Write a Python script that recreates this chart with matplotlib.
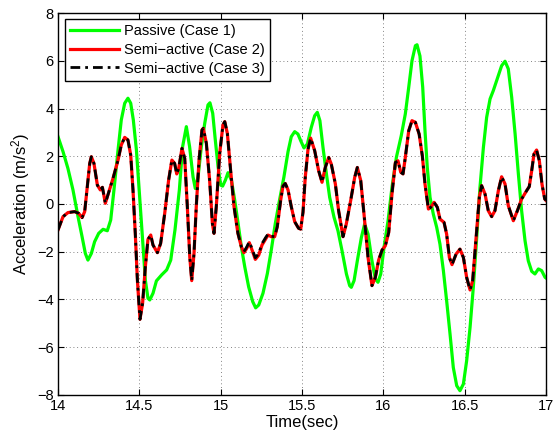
import numpy as np
import matplotlib
matplotlib.use('Agg')
import matplotlib.pyplot as plt

# --------------------------------Data--------------------------------
t_passive = [14.0, 14.031, 14.061, 14.092, 14.123, 14.148, 14.168, 14.184, 14.205, 14.225,
             14.25, 14.277, 14.303, 14.324, 14.344, 14.369, 14.389, 14.41, 14.43, 14.447,
             14.463, 14.482, 14.502, 14.523, 14.537, 14.553, 14.564, 14.584, 14.605, 14.637,
             14.668, 14.693, 14.719, 14.746, 14.766, 14.789, 14.809, 14.83, 14.844, 14.861,
             14.881, 14.902, 14.922, 14.934, 14.951, 14.967, 14.984, 15.0, 15.012, 15.029,
             15.045, 15.066, 15.086, 15.107, 15.127, 15.148, 15.172, 15.197, 15.215, 15.234,
             15.26, 15.287, 15.311, 15.336, 15.362, 15.389, 15.414, 15.434, 15.455, 15.475,
             15.492, 15.512, 15.533, 15.557, 15.578, 15.594, 15.61, 15.629, 15.65, 15.67,
             15.697, 15.721, 15.746, 15.773, 15.793, 15.803, 15.82, 15.84, 15.865, 15.885,
             15.906, 15.93, 15.951, 15.967, 15.984, 16.004, 16.029, 16.053, 16.08, 16.11,
             16.135, 16.156, 16.176, 16.197, 16.207, 16.225, 16.242, 16.256, 16.27, 16.287,
             16.307, 16.328, 16.348, 16.369, 16.389, 16.41, 16.43, 16.451, 16.471, 16.492,
             16.512, 16.533, 16.553, 16.574, 16.594, 16.615, 16.635, 16.656, 16.676, 16.7,
             16.727, 16.748, 16.768, 16.789, 16.81, 16.83, 16.85, 16.871, 16.891, 16.912,
             16.932, 16.953, 16.973, 16.994, 17.0]
a_passive = [2.82, 2.19, 1.49, 0.59, -0.53, -1.37, -2.07, -2.35, -2.07, -1.58,
             -1.23, -1.06, -1.12, -0.67, 0.59, 2.26, 3.52, 4.22, 4.43, 4.22,
             3.52, 2.26, 0.31, -1.79, -3.19, -3.95, -4.02, -3.74, -3.22, -2.97,
             -2.76, -2.35, -1.09, 0.59, 2.40, 3.24, 2.40, 1.14, 0.65, 1.14,
             2.40, 3.38, 4.15, 4.24, 3.80, 2.68, 1.56, 0.79, 0.75, 1.00,
             1.31, 1.00, 0.17, -0.81, -1.79, -2.63, -3.47, -4.09, -4.35, -4.23,
             -3.74, -2.91, -1.93, -0.81, 0.17, 1.14, 2.19, 2.82, 3.03, 2.93,
             2.65, 2.35, 2.51, 3.21, 3.70, 3.84, 3.49, 2.37, 1.26, 0.28,
             -0.56, -1.12, -1.96, -2.93, -3.42, -3.49, -3.21, -2.38, -1.40, -0.84,
             -1.26, -2.38, -3.14, -3.28, -2.93, -1.82, -0.70, 0.70, 1.95, 2.86,
             3.77, 4.89, 6.0, 6.63, 6.67, 6.2, 4.89, 3.07, 1.53, 0.28,
             -0.42, -0.98, -1.68, -2.79, -4.05, -5.45, -6.85, -7.61, -7.82, -7.54,
             -6.57, -5.17, -3.49, -1.40, 0.70, 2.37, 3.63, 4.40, 4.75, 5.24,
             5.79, 5.98, 5.66, 4.47, 2.93, 1.26, -0.28, -1.54, -2.38, -2.82,
             -2.93, -2.72, -2.79, -3.07, -3.1]

t_semi = [14.0, 14.031, 14.061, 14.102, 14.127, 14.148, 14.164, 14.18, 14.195, 14.205,
          14.221, 14.242, 14.26, 14.273, 14.291, 14.307, 14.338, 14.369, 14.389, 14.41,
          14.43, 14.447, 14.461, 14.475, 14.488, 14.504, 14.52, 14.537, 14.553, 14.57,
          14.584, 14.611, 14.631, 14.656, 14.68, 14.70, 14.717, 14.73, 14.742, 14.762,
          14.779, 14.795, 14.81, 14.822, 14.836, 14.85, 14.867, 14.885, 14.893, 14.912,
          14.932, 14.949, 14.959, 14.973, 14.994, 15.014, 15.025, 15.041, 15.061, 15.082,
          15.106, 15.127, 15.143, 15.16, 15.176, 15.193, 15.213, 15.234, 15.254, 15.275,
          15.291, 15.311, 15.332, 15.348, 15.369, 15.383, 15.397, 15.414, 15.434, 15.455,
          15.479, 15.492, 15.506, 15.52, 15.537, 15.553, 15.578, 15.602, 15.623, 15.643,
          15.664, 15.68, 15.705, 15.725, 15.752, 15.772, 15.799, 15.824, 15.84, 15.861,
          15.881, 15.906, 15.93, 15.951, 15.971, 15.992, 16.012, 16.033, 16.053, 16.074,
          16.09, 16.107, 16.121, 16.135, 16.156, 16.176, 16.197, 16.22, 16.24, 16.256,
          16.277, 16.291, 16.312, 16.332, 16.348, 16.373, 16.389, 16.406, 16.422, 16.447,
          16.471, 16.492, 16.512, 16.533, 16.549, 16.57, 16.59, 16.604, 16.625, 16.645,
          16.666, 16.686, 16.707, 16.727, 16.748, 16.768, 16.799, 16.824, 16.85, 16.881,
          16.897, 16.912, 16.926, 16.942, 16.959, 16.975, 16.992, 17.0]
a_semi2 = [-1.09, -0.53, -0.36, -0.32, -0.39, -0.57, -0.32, 0.72, 1.70, 1.98,
           1.70, 0.79, 0.59, 0.70, 0.03, 0.38, 1.07, 1.84, 2.47, 2.79,
           2.68, 2.05, 0.59, -1.23, -3.19, -4.83, -4.16, -2.63, -1.48, -1.30,
           -1.72, -2.04, -1.65, -0.39, 1.00, 1.84, 1.70, 1.26, 1.49, 2.33,
           1.91, -0.11, -2.21, -3.21, -2.07, -0.11, 1.84, 3.10, 3.17, 2.54,
           1.00, -0.81, -1.23, -0.11, 2.12, 3.31, 3.45, 2.96, 1.42, -0.11,
           -1.23, -1.79, -2.04, -1.86, -1.62, -1.93, -2.32, -2.14, -1.72, -1.48,
           -1.30, -1.37, -1.37, -0.95, 0.17, 0.75, 0.86, 0.59, -0.11, -0.74,
           -1.02, -1.05, -0.35, 1.12, 2.30, 2.76, 2.23, 1.40, 0.91, 1.53,
           1.95, 1.67, 0.84, -0.28, -1.37, -0.84, 0.14, 1.12, 1.53, 0.98,
           -0.42, -2.24, -3.42, -3.07, -2.35, -1.93, -1.75, -1.19, 0.42, 1.74,
           1.81, 1.33, 1.26, 1.95, 3.07, 3.49, 3.42, 2.93, 2.0, 0.84,
           -0.21, -0.14, 0.07, -0.14, -0.63, -0.77, -1.26, -2.24, -2.54, -2.10,
           -1.89, -2.24, -3.07, -3.60, -3.21, -1.40, 0.28, 0.77, 0.42, -0.28,
           -0.53, -0.28, 0.56, 1.14, 0.84, -0.07, -0.70, -0.28, 0.21, 0.56,
           0.73, 1.40, 2.09, 2.26, 1.81, 0.84, 0.21, 0.15]
# case 3 sits right on top of case 2 in the picture, only a few points differ a bit
a_semi3 = [-1.09, -0.53, -0.36, -0.32, -0.39, -0.57, -0.32, 0.72, 1.70, 1.98,
           1.70, 0.79, 0.59, 0.70, 0.03, 0.38, 1.07, 1.84, 2.47, 2.79,
           2.68, 2.05, 0.59, -1.23, -3.19, -4.83, -4.16, -2.63, -1.48, -1.30,
           -1.72, -2.04, -1.65, -0.39, 1.00, 1.84, 1.70, 1.26, 1.49, 2.33,
           1.91, -0.11, -2.21, -3.21, -2.07, -0.11, 1.84, 3.10, 3.17, 2.54,
           1.00, -0.81, -1.23, -0.11, 2.12, 3.31, 3.45, 2.96, 1.42, -0.11,
           -1.23, -1.79, -2.00, -1.80, -1.58, -1.88, -2.25, -2.08, -1.66, -1.42,
           -1.26, -1.35, -1.37, -0.95, 0.17, 0.75, 0.86, 0.59, -0.11, -0.74,
           -1.02, -1.05, -0.35, 1.12, 2.30, 2.76, 2.23, 1.40, 0.91, 1.53,
           1.95, 1.67, 0.84, -0.28, -1.37, -0.84, 0.14, 1.12, 1.53, 0.98,
           -0.42, -2.24, -3.42, -3.07, -2.35, -1.93, -1.75, -1.19, 0.42, 1.74,
           1.81, 1.33, 1.26, 1.95, 3.07, 3.49, 3.42, 2.93, 2.0, 0.84,
           -0.21, -0.14, 0.07, -0.14, -0.63, -0.77, -1.26, -2.24, -2.54, -2.10,
           -1.89, -2.24, -3.07, -3.60, -3.21, -1.40, 0.28, 0.77, 0.42, -0.28,
           -0.53, -0.28, 0.56, 1.14, 0.84, -0.07, -0.70, -0.28, 0.21, 0.56,
           0.73, 1.40, 2.09, 2.26, 1.81, 0.84, 0.21, 0.15]

labels = ['Passive (Case 1)', 'Semi\u2212active (Case 2)', 'Semi\u2212active (Case 3)']
x_ticks = [14, 14.5, 15, 15.5, 16, 16.5, 17]
y_ticks = [-8, -6, -4, -2, 0, 2, 4, 6, 8]

# --------------------------------Plot----------------------------------------------------------
plt.rcParams['font.family'] = ['Liberation Sans', 'DejaVu Sans']
plt.rcParams['mathtext.fontset'] = 'custom'
plt.rcParams['mathtext.rm'] = 'Liberation Sans'
plt.rcParams['mathtext.it'] = 'Liberation Sans'

fig = plt.figure(figsize=(5.54, 4.38), dpi=100)
ax = fig.add_axes([0.1047, 0.0982, 0.8809, 0.8721])

ax.plot(t_passive, a_passive, color='#00ff00', lw=2.3, solid_joinstyle='round', label=labels[0])
ax.plot(t_semi, a_semi2, color='#ff0000', lw=2.3, solid_joinstyle='round', label=labels[1])
ax.plot(t_semi, a_semi3, color='black', lw=2.0, dashes=(3.5, 1.8, 1.0, 1.8), label=labels[2])

ax.set_xlim(14, 17)
ax.set_ylim(-8, 8)
ax.set_xticks(x_ticks)
ax.set_xticklabels([('%g' % v) for v in x_ticks])
ax.set_yticks(y_ticks)
ax.set_yticklabels([('%d' % v).replace('-', '\u2212') for v in y_ticks])
ax.tick_params(direction='in', top=True, right=True, length=4, width=0.8, labelsize=10.5, pad=3)
ax.grid(True, color='0.35', linestyle=(0, (1, 3.5)), linewidth=0.6)
for sp in ax.spines.values():
    sp.set_linewidth(1.0)

ax.set_xlabel('Time(sec)', fontsize=12, labelpad=1)
ax.set_ylabel('Acceleration (m/s$^2$)', fontsize=12, labelpad=4)

leg = ax.legend(loc='upper left', bbox_to_anchor=(0.015, 0.984), borderaxespad=0,
                fontsize=10.5, handlelength=3.3, labelspacing=0.32, handletextpad=0.4,
                borderpad=0.35, fancybox=False, framealpha=1)
leg.get_frame().set_edgecolor('black')
leg.get_frame().set_linewidth(1.0)

plt.savefig('out.png', dpi=100)
